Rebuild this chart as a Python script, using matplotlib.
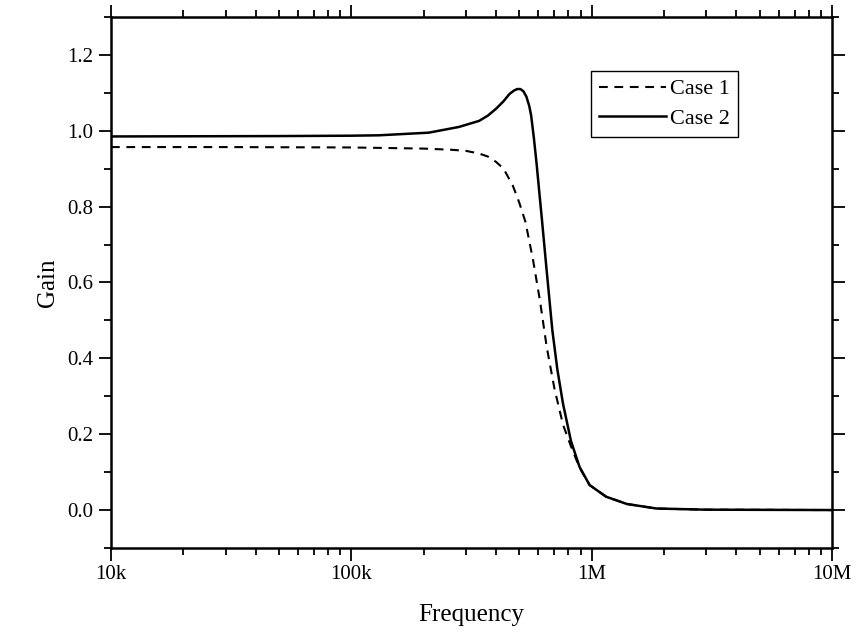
import matplotlib
matplotlib.use("Agg")
import matplotlib.pyplot as plt
from matplotlib.ticker import LogLocator, MultipleLocator, NullFormatter, FormatStrFormatter

# values
freq1 = [1e4, 3e4, 1e5, 2e5, 2.6e5, 3e5, 3.4e5, 3.7e5, 4.0e5, 4.3e5, 4.7e5, 5.0e5,
         5.3e5, 5.7e5, 6.1e5, 6.5e5, 7.0e5, 7.6e5, 8.2e5, 8.9e5, 9.8e5, 1.15e6,
         1.4e6, 1.86e6, 3e6, 1e7]
gain1 = [0.957, 0.957, 0.956, 0.953, 0.950, 0.947, 0.940, 0.932, 0.918, 0.900, 0.855, 0.810,
         0.760, 0.660, 0.550, 0.430, 0.320, 0.225, 0.168, 0.112, 0.066, 0.035,
         0.016, 0.004, 0.001, 0.0]

freq2 = [1e4, 5e4, 1e5, 1.3e5, 2.1e5, 2.8e5, 3.4e5, 3.7e5, 4.0e5, 4.3e5, 4.55e5, 4.75e5,
         4.9e5, 5.05e5, 5.2e5, 5.35e5, 5.5e5, 5.6e5, 5.75e5, 5.9e5, 6.05e5, 6.2e5, 6.5e5,
         6.86e5, 7.2e5, 7.6e5, 8.2e5, 8.9e5, 9.8e5, 1.08e6, 1.15e6, 1.4e6, 1.86e6, 3e6, 1e7]
gain2 = [0.985, 0.986, 0.987, 0.988, 0.995, 1.010, 1.026, 1.040, 1.058, 1.078, 1.097, 1.106,
         1.110, 1.110, 1.104, 1.090, 1.065, 1.040, 0.980, 0.913, 0.840, 0.770, 0.630,
         0.474, 0.370, 0.280, 0.182, 0.114, 0.066, 0.047, 0.035, 0.016, 0.004, 0.001, 0.0]

xticks = [1e4, 1e5, 1e6, 1e7]
xlabels = ["10k", "100k", "1M", "10M"]
legend_labels = ["Case 1", "Case 2"]

plt.rcParams['font.family'] = ['Liberation Serif', 'DejaVu Serif']

fig = plt.figure(figsize=(8.59, 6.36), dpi=100)
ax = fig.add_axes([0.1292, 0.1384, 0.8394, 0.8349])

ax.plot(freq1, gain1, color='black', lw=1.5, linestyle=(0, (4.2, 3.2)), label=legend_labels[0])
ax.plot(freq2, gain2, color='black', lw=1.8, label=legend_labels[1])

ax.set_xscale('log')
ax.set_xlim(1e4, 1e7)
ax.set_ylim(-0.1, 1.3)
ax.set_xticks(xticks)
ax.set_xticklabels(xlabels)
ax.xaxis.set_minor_locator(LogLocator(base=10, subs=range(2, 10)))
ax.xaxis.set_minor_formatter(NullFormatter())
ax.yaxis.set_major_locator(MultipleLocator(0.2))
ax.yaxis.set_minor_locator(MultipleLocator(0.1))
ax.yaxis.set_major_formatter(FormatStrFormatter('%.1f'))

ax.tick_params(which='both', direction='out', top=True, right=True, labelsize=15, width=1.3)
ax.tick_params(which='major', length=9)
ax.tick_params(which='minor', length=5)
for s in ax.spines.values():
    s.set_linewidth(1.8)

ax.set_xlabel("Frequency", fontsize=18, labelpad=14)
ax.set_ylabel("Gain", fontsize=18, labelpad=6)

ax.legend(loc='upper left', bbox_to_anchor=(0.666, 0.898), borderaxespad=0,
          fancybox=False, edgecolor='black', framealpha=1, fontsize=16,
          handlelength=3.0, handletextpad=0.2, borderpad=0.35, labelspacing=0.4)

fig.savefig("out.png", dpi=100)
